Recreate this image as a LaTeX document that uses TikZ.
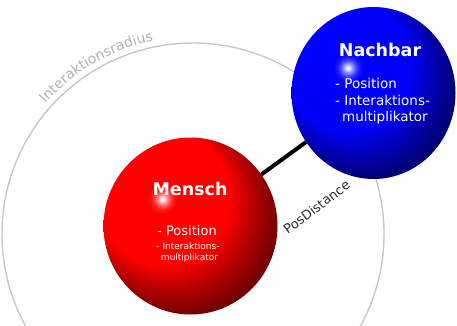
\documentclass[tikz,border=0pt]{standalone}
\usepackage{fontspec}
\setmainfont{DejaVu Sans}
\usetikzlibrary{shapes.geometric,decorations.text}
\definecolor{ringgrey}{RGB}{200,200,200}
\definecolor{labelgrey}{RGB}{178,178,178}
\definecolor{distgrey}{RGB}{45,45,45}
\pgfdeclareradialshading{redball}{\pgfpoint{-16bp}{16bp}}{color(0bp)=(red); color(19bp)=(red); color(24bp)=(red!70!black); color(29bp)=(red!45!black); color(37.5bp)=(red!40!black)}
\pgfdeclareradialshading{blueball}{\pgfpoint{-16bp}{16bp}}{color(0bp)=(blue); color(19bp)=(blue!97!black); color(24bp)=(blue!70!black); color(29bp)=(blue!45!black); color(37.5bp)=(blue!40!black)}
\pgfdeclareradialshading{redglow}{\pgfpoint{0bp}{0bp}}{color(0bp)=(white); color(3bp)=(white!90!red); color(7bp)=(white!60!red); color(13bp)=(white!28!red); color(19bp)=(white!8!red); color(25bp)=(red); color(50bp)=(red)}
\pgfdeclareradialshading{blueglow}{\pgfpoint{0bp}{0bp}}{color(0bp)=(white); color(3bp)=(white!90!blue); color(7bp)=(white!60!blue); color(13bp)=(white!28!blue); color(19bp)=(white!8!blue); color(25bp)=(blue); color(50bp)=(blue)}
\tikzset{
  ringline/.style={draw=ringgrey, line width=1.4pt},
  sphere/.style={ellipse, inner sep=0pt, shade},
  link/.style={line width=4pt, black},
  titletext/.style={text=white, font=\bfseries\fontsize{17.5}{20}\selectfont, inner sep=0pt},
  bigitem/.style={text=white, font=\fontsize{13}{15}\selectfont, inner sep=0pt},
  nbitem/.style={text=white, font=\fontsize{13.5}{16}\selectfont, inner sep=0pt, anchor=west},
  smallitem/.style={text=white, font=\fontsize{9}{11}\selectfont, inner sep=0pt},
}
\begin{document}
\begin{tikzpicture}[x=1pt,y=1pt]
\useasboundingbox (0,0) rectangle (457,325);
\fill[white] (0,0) rectangle (457,325);
\coordinate (rc) at (193,91);
\draw[ringline] (rc) circle (191);
\path[decorate, decoration={text along path, text align=left,
  text={|\fontsize{14}{16}\selectfont\color{labelgrey}|Interaktionsradius}}]
  ([shift={(138.5:197)}]rc) arc (138.5:90:197);
\node[sphere, shading=redball, minimum width=174pt, minimum height=177pt] (mensch) at (190.5,99) {};
\shade[shading=redglow] (162.5,126) circle (15);
\node[sphere, shading=blueball, minimum width=164pt, minimum height=172pt] (nachbar) at (373.5,232) {};
\shade[shading=blueglow] (348,257) circle (15);
\draw[link] (mensch) -- (nachbar);
\node[titletext] (mt) at (190,136) {Mensch};
\node[bigitem] (mp) at (187,94) {- Position};
\node[smallitem] (mi) at (188,79) {- Interaktions-};
\node[smallitem] (mm) at (189.5,67) {multiplikator};
\node[titletext] (nt) at (380,275) {Nachbar};
\node[nbitem] (np) at (335,242) {- Position};
\node[nbitem] (ni) at (335,224.5) {- Interaktions-};
\node[nbitem] (nm) at (342,207) {multiplikator};
\node[text=distgrey, font=\fontsize{13}{15}\selectfont, rotate=37, inner sep=0pt] (pd) at (316.5,118) {PosDistance};
\end{tikzpicture}
\end{document}
